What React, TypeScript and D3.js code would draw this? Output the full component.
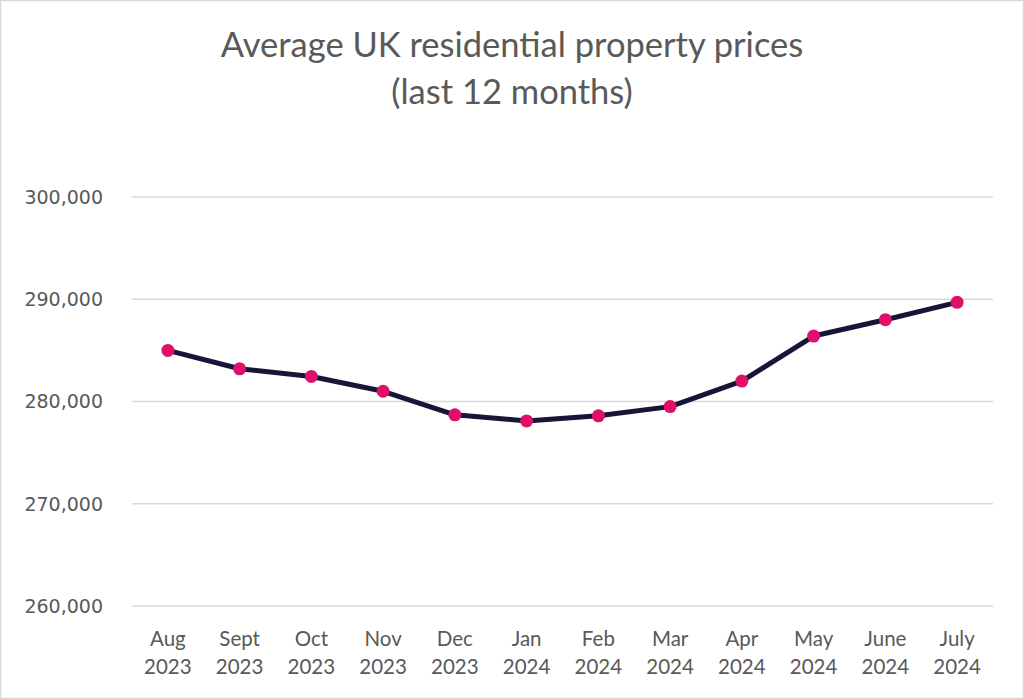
import React from "react";
import * as d3 from "d3";

const months = ["Aug", "Sept", "Oct", "Nov", "Dec", "Jan", "Feb", "Mar", "Apr", "May", "June", "July"];
const years = ["2023", "2023", "2023", "2023", "2023", "2024", "2024", "2024", "2024", "2024", "2024", "2024"];
const prices = [285000, 283200, 282450, 281000, 278700, 278100, 278600, 279500, 282000, 286400, 288000, 289700];
const yTicks = [260000, 270000, 280000, 290000, 300000];

const W = 1024;
const H = 699;
const margin = { left: 132, right: 31, top: 197, bottom: 93 };

export default function App() {
  const cats = months.map((m, i) => `${m} ${years[i]}`);
  const x = d3.scaleBand<string>().domain(cats).range([margin.left, W - margin.right]);
  const y = d3.scaleLinear().domain([260000, 300000]).range([H - margin.bottom, margin.top]);
  const line = d3
    .line<number>()
    .x((_, i) => (x(cats[i]) as number) + x.bandwidth() / 2)
    .y((d) => y(d));
  const fmt = d3.format(",");
  const gray = "#595959";

  return (
    <svg
      width={W}
      height={H}
      style={{ position: "fixed", left: 0, top: 0, background: "#fff" }}
    >
      <rect x={0.5} y={0.5} width={W - 1} height={H - 1} fill="#fff" stroke="#d9d9d9" strokeWidth={1.5} />
      <text x={512} y={57} textAnchor="middle" fontFamily="Lato" fontSize={34.5} fill={gray}>
        Average UK residential property prices
      </text>
      <text x={512} y={104} textAnchor="middle" fontFamily="Lato" fontSize={34.5} fill={gray}>
        (last 12 months)
      </text>
      {yTicks.map((t) => (
        <g key={t}>
          <line x1={margin.left} x2={W - margin.right} y1={y(t)} y2={y(t)} stroke="#d9d9d9" strokeWidth={1.5} />
          <text
            x={103}
            y={y(t)}
            dy="0.36em"
            textAnchor="end"
            fontFamily="DejaVu Sans"
            fontSize={19}
            fill={gray}
          >
            {fmt(t)}
          </text>
        </g>
      ))}
      {cats.map((c, i) => {
        const cx = (x(c) as number) + x.bandwidth() / 2;
        return (
          <text key={c} x={cx} textAnchor="middle" fontFamily="Lato" fontSize={20.5} fill={gray}>
            <tspan x={cx} y={646}>{months[i]}</tspan>
            <tspan x={cx} y={674}>{years[i]}</tspan>
          </text>
        );
      })}
      <path d={line(prices) || ""} fill="none" stroke="#15163a" strokeWidth={5} strokeLinejoin="round" />
      {prices.map((p, i) => (
        <circle key={i} cx={(x(cats[i]) as number) + x.bandwidth() / 2} cy={y(p)} r={6.5} fill="#e0106a" />
      ))}
    </svg>
  );
}
